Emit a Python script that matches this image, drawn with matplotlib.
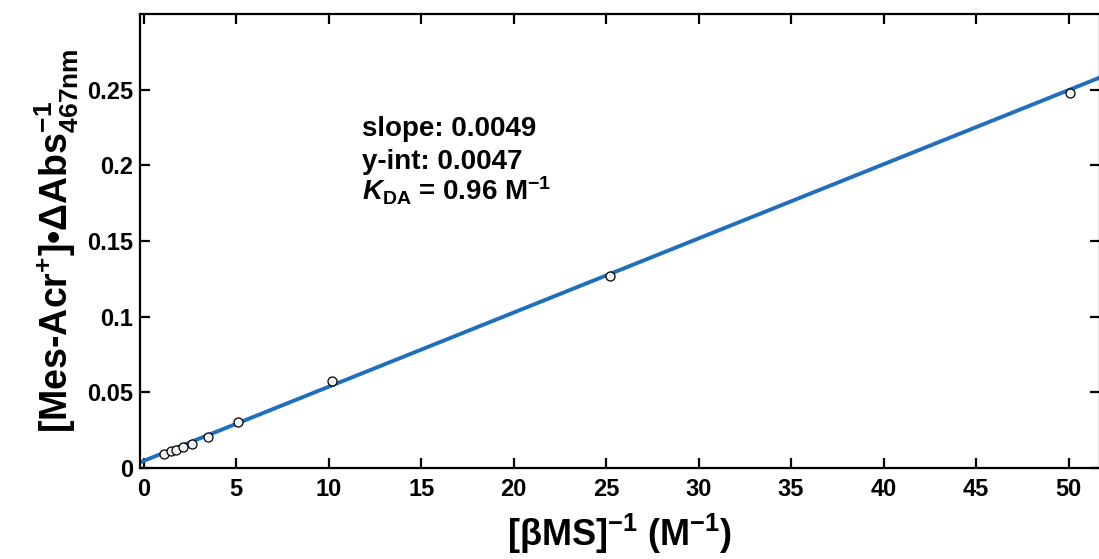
import numpy as np
import matplotlib
matplotlib.use('Agg')
import matplotlib.pyplot as plt
from matplotlib.ticker import FormatStrFormatter

plt.rcParams['font.family'] = ['Liberation Sans', 'DejaVu Sans']
plt.rcParams['font.weight'] = 'bold'
plt.rcParams['axes.labelweight'] = 'bold'
plt.rcParams['mathtext.fontset'] = 'custom'
plt.rcParams['mathtext.rm'] = 'Liberation Sans:bold'
plt.rcParams['mathtext.it'] = 'Liberation Sans:italic:bold'
plt.rcParams['mathtext.bf'] = 'Liberation Sans:bold'

# 数据点: [βMS]^-1 与 [Mes-Acr+]·ΔAbs^-1
inv_ms = [1.1, 1.5, 1.75, 2.1, 2.6, 3.5, 5.1, 10.2, 25.2, 50.1]
inv_abs = [0.0092, 0.0110, 0.0117, 0.0136, 0.0160, 0.0202, 0.0302, 0.0575, 0.1270, 0.2475]

# 线性拟合结果
slope = 0.0049
y_int = 0.0047
k_da = 0.96

x_ticks = list(range(0, 51, 5))
y_ticks = [0, 0.05, 0.1, 0.15, 0.2, 0.25]

fig = plt.figure(figsize=(10.99, 5.59), dpi=100)
ax = fig.add_axes([0.1274, 0.1628, 0.8735, 0.8122])

xs = np.array([-0.2, 51.7])
ax.plot(xs, y_int + slope * xs, color='#1f6fbe', lw=2.8, zorder=2)
ax.plot(inv_ms, inv_abs, 'o', ms=6.5, mfc='#f2f2f2', mec='black', mew=0.9, zorder=3)

ax.set_xlim(-0.2, 51.7)
ax.set_ylim(0, 0.3)
ax.set_xticks(x_ticks)
ax.set_yticks(y_ticks)
ax.yaxis.set_major_formatter(FormatStrFormatter('%g'))
ax.tick_params(direction='in', length=7, width=1.6, labelsize=17,
               top=True, right=True)
ax.tick_params(axis='x', pad=7)
ax.tick_params(axis='y', pad=5)
for s in ax.spines.values():
    s.set_linewidth(1.6)

ax.set_xlabel(r'[βMS]$^{-1}$ (M$^{-1}$)', fontsize=26, labelpad=8)
ax.set_ylabel(r'[Mes-Acr$^{+}$]•ΔAbs$^{-1}_{467\mathrm{nm}}$', fontsize=27, labelpad=4)

ax.text(11.8, 0.2195, f'slope: {slope}', fontsize=20)
ax.text(11.8, 0.1975, f'y-int: {y_int}', fontsize=20)
ax.text(11.8, 0.1765, r'$K_{\mathrm{DA}}$' + f' = {k_da} M' + r'$^{-1}$', fontsize=20)

fig.savefig('out.png', dpi=100)
